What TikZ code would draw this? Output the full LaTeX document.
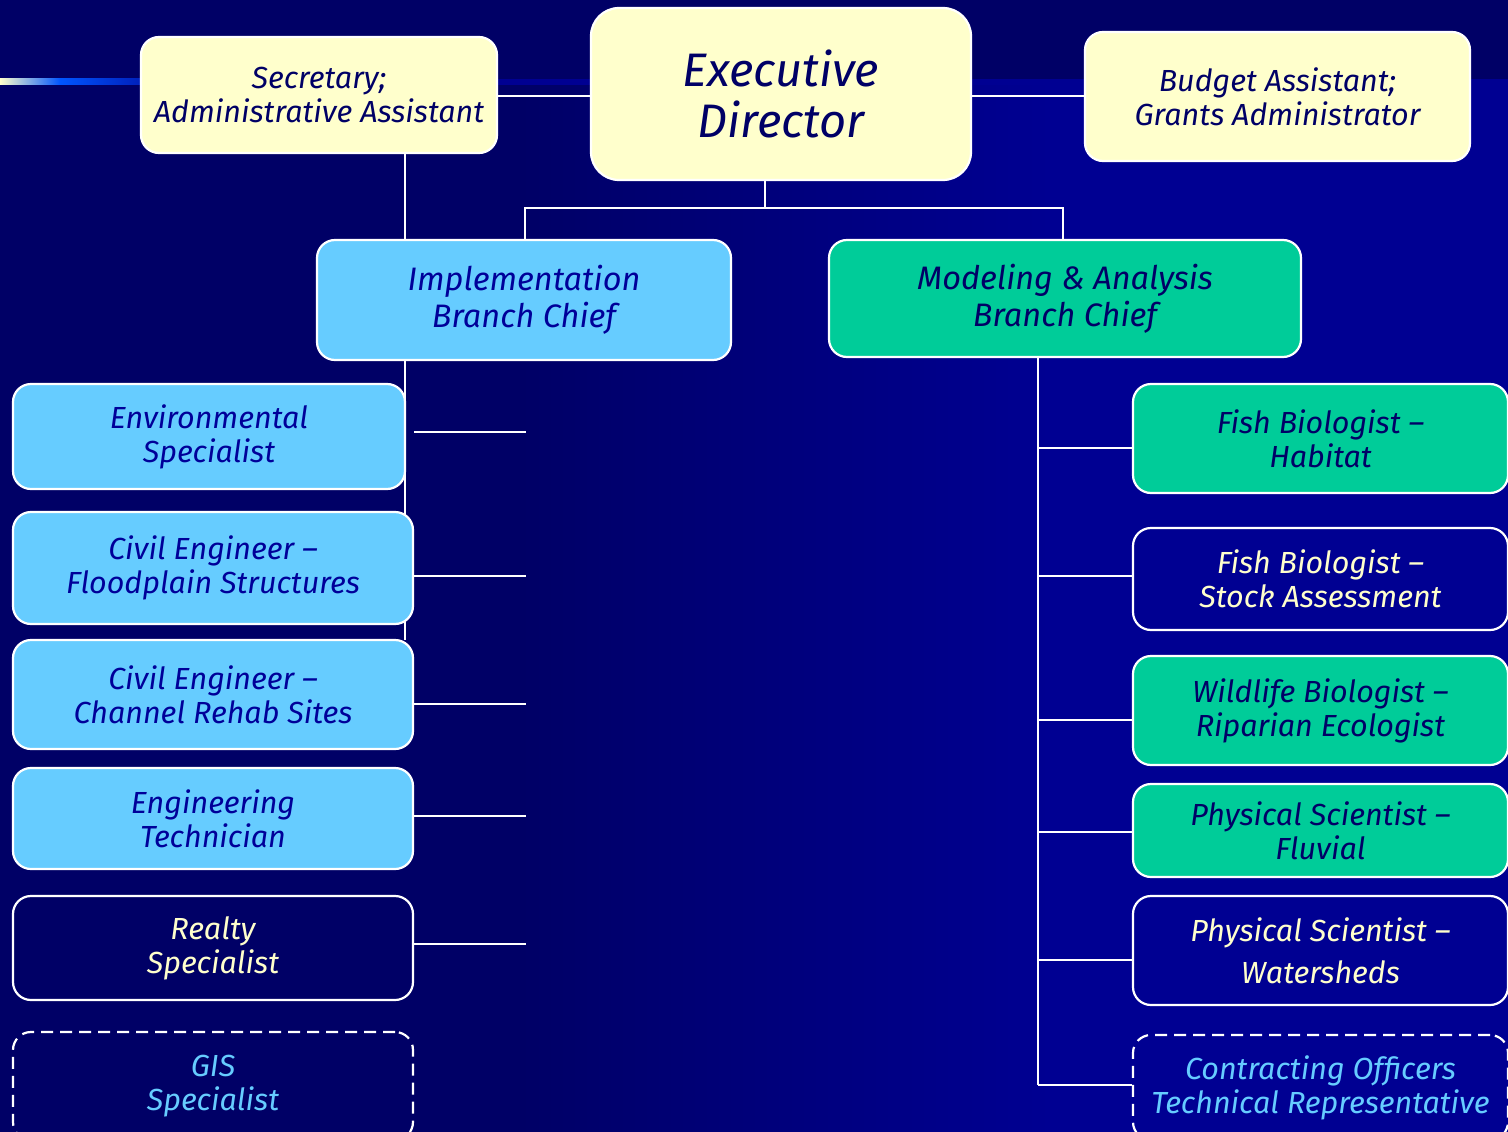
\documentclass[tikz,border=0pt]{standalone}
\usepackage{fontspec}
\setmainfont{Fira Sans}
\definecolor{navyA}{HTML}{000066}
\definecolor{navyB}{HTML}{000092}
\definecolor{creamC}{HTML}{FFFFCC}
\definecolor{lblue}{HTML}{66CCFF}
\definecolor{greenC}{HTML}{00CC99}
\definecolor{brightB}{HTML}{0055FF}
\definecolor{txtBlue}{HTML}{000099}
\begin{document}
\begin{tikzpicture}[x=1pt,y=-1pt,
  box/.style={draw=white, line width=2.2pt, rounded corners=18pt, align=center, inner sep=0pt,
    font=\itshape\fontsize{30.5}{34}\selectfont},
  creambox/.style={box, fill=creamC, text=navyA},
  bluebox/.style={box, fill=lblue, text=txtBlue},
  greenbox/.style={box, fill=greenC, text=navyA},
  darkbox/.style={box, text=creamC},
  dashbox/.style={box, text=lblue, dash pattern=on 12pt off 7pt},
  conn/.style={draw=white, line width=2.2pt}]
\useasboundingbox (0,0) rectangle (1508,1132);
% background
\fill[navyA] (0,0) rectangle (1508,1132);
\shade[left color=navyA, right color=navyB] (520,80) rectangle (1050,1132);
\fill[navyB] (1050,80) rectangle (1508,1132);
\shade[left color=creamC, right color=brightB] (0,79) rectangle (60,85);
\shade[left color=brightB, right color=navyB] (60,79) rectangle (190,85);
\fill[navyB] (190,79) rectangle (1508,85);

% named coordinates for connector routing
\coordinate (sa) at (405,153);
\coordinate (sb) at (405,640);
\coordinate (eb) at (765,180);
\coordinate (jL) at (525,208);
\coordinate (jR) at (1063,208);
\coordinate (s1) at (526,432);
\coordinate (s2) at (526,576);
\coordinate (s3) at (526,704);
\coordinate (s4) at (526,816);
\coordinate (s5) at (526,944);
\coordinate (rt) at (1038,357);
\coordinate (r1) at (1038,448);
\coordinate (r2) at (1038,576);
\coordinate (r3) at (1038,720);
\coordinate (r4) at (1038,832);
\coordinate (r5) at (1038,960);
\coordinate (r6) at (1038,1085);

% connectors behind the boxes
\draw[conn] (sa) -- (sb);
\draw[conn] (eb) |- (jL) -- (525,240);
\draw[conn] (eb) |- (jR) -- (1063,240);
\draw[conn] (rt) -- (r6);

% top row
\node[creambox, minimum width=356pt, minimum height=116pt] (sec) at (319,95) {Secretary;\\Administrative Assistant};
\node[creambox, rounded corners=28pt, minimum width=380pt, minimum height=172pt,
      font=\itshape\fontsize{47}{51}\selectfont] (exec) at (781,94) {Executive\\Director};
\node[creambox, minimum width=385pt, minimum height=129pt] (bud) at (1277.5,96.5) {Budget Assistant;\\Grants Administrator};

% branch chiefs
\node[bluebox, minimum width=414pt, minimum height=120pt, font=\itshape\fontsize{32.5}{37}\selectfont] (impl) at (524,300) {Implementation\\Branch Chief};
\node[greenbox, minimum width=472pt, minimum height=117pt, font=\itshape\fontsize{32.5}{37}\selectfont] (model) at (1065,298.5) {Modeling \& Analysis\\Branch Chief};

% left column
\node[bluebox, minimum width=392pt, minimum height=105pt] (env) at (209,436.5) {Environmental\\Specialist};
\node[bluebox, minimum width=400pt, minimum height=112pt] (civ1) at (213,568) {Civil Engineer –\\Floodplain Structures};
\node[bluebox, minimum width=400pt, minimum height=109pt] (civ2) at (213,694.5) {Civil Engineer –\\Channel Rehab Sites};
\node[bluebox, minimum width=400pt, minimum height=101pt] (eng) at (213,818.5) {Engineering\\Technician};
\node[darkbox, minimum width=400pt, minimum height=104pt] (real) at (213,948) {Realty\\Specialist};
\node[dashbox, minimum width=400pt, minimum height=108pt] (gis) at (213,1086) {GIS\\Specialist};

% right column
\node[greenbox, minimum width=375pt, minimum height=109pt] (fish1) at (1320.5,438.5) {Fish Biologist –\\Habitat};
\node[darkbox, minimum width=375pt, minimum height=102pt] (fish2) at (1320.5,579) {Fish Biologist –\\Stock Assessment};
\node[greenbox, minimum width=375pt, minimum height=109pt] (wild) at (1320.5,710.5) {Wildlife Biologist –\\Riparian Ecologist};
\node[greenbox, minimum width=375pt, minimum height=93pt] (phys1) at (1320.5,830.5) {Physical Scientist –\\Fluvial};
\node[darkbox, minimum width=375pt, minimum height=109pt, font=\itshape\fontsize{30.5}{42}\selectfont] (phys2) at (1320.5,950.5) {Physical Scientist –\\Watersheds};
\node[dashbox, minimum width=375pt, minimum height=105pt] (cotr) at (1320.5,1087.5) {Contracting Officers\\Technical Representative};

% connectors between boxes
\draw[conn] (sec.east |- 0,96) -- (exec.west |- 0,96);
\draw[conn] (exec.east |- 0,96) -- (bud.west |- 0,96);
\draw[conn] (s1 -| civ1.east) -- (s1);
\draw[conn] (s2 -| civ1.east) -- (s2);
\draw[conn] (s3 -| civ2.east) -- (s3);
\draw[conn] (s4 -| eng.east) -- (s4);
\draw[conn] (s5 -| real.east) -- (s5);
\draw[conn] (r1) -- (r1 -| fish1.west);
\draw[conn] (r2) -- (r2 -| fish2.west);
\draw[conn] (r3) -- (r3 -| wild.west);
\draw[conn] (r4) -- (r4 -| phys1.west);
\draw[conn] (r5) -- (r5 -| phys2.west);
\draw[conn] (r6) -- (r6 -| cotr.west);
\end{tikzpicture}
\end{document}
